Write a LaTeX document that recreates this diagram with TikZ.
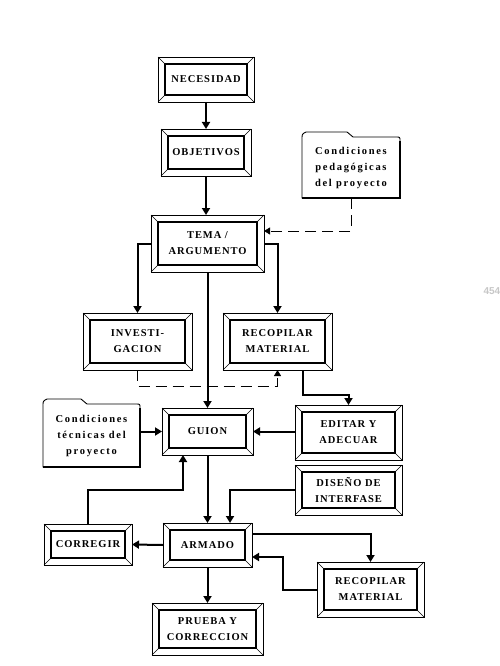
\documentclass[tikz,border=0pt]{standalone}
\usepackage{fontspec}
\setmainfont{Liberation Serif}
\newfontfamily\bxf[LetterSpace=9]{Liberation Serif}
\newfontfamily\fdf[LetterSpace=16]{Liberation Serif}
\newfontfamily\lsans{Liberation Sans}
\usetikzlibrary{arrows.meta}
\tikzset{
  bevbox/.style={draw, line width=0.6pt, inner sep=0pt, outer sep=0pt, align=center,
     font=\bxf\bfseries\fontsize{10.5}{16}\selectfont},
  foldbox/.style={inner sep=0pt, outer sep=0pt, align=center,
     font=\fdf\bfseries\fontsize{10.5}{16}\selectfont},
  conn/.style={line width=2pt, -{Triangle[length=7pt,width=8pt]}},
  dconn/.style={line width=0.8pt, dash pattern=on 11pt off 6pt, -{Triangle[length=6pt,width=7pt]}},
  inner/.style={line width=2pt},
  bevel/.style={line width=0.5pt},
  folder/.style={line width=0.9pt}
}
\newcommand\bev[6]{%
  \node[bevbox, minimum width={#4-#2}, minimum height={#5-#3}] (#1) at ({(#2+#4)/2},{(#3+#5)/2}) {#6};
  \draw[inner] ([shift={(7,7)}]#1.north west) rectangle ([shift={(-7,-7)}]#1.south east);
  \draw[bevel] (#1.north west) -- ([shift={(7,7)}]#1.north west)
               (#1.north east) -- ([shift={(-7,7)}]#1.north east)
               (#1.south west) -- ([shift={(7,-7)}]#1.south west)
               (#1.south east) -- ([shift={(-7,-7)}]#1.south east);
}
% name, x1, body-top y1, x2, y2, tab width, text
\newcommand\folderbox[7]{%
  \node[foldbox, minimum width={#4-#2}, minimum height={#5-#3}] (#1) at ({(#2+#4)/2},{(#3+#5)/2}) {#7};
  \draw[folder] (#2,#5) -- (#2,{#3+2}) .. controls (#2,{#3-3}) .. ({#2+4},{#3-5})
     -- ({#2+#6},{#3-5}) -- ({#2+#6+6},#3) -- ({#4-4},#3) .. controls (#4,#3) .. (#4,{#3+4})
     -- (#4,#5) -- cycle;
  \draw[line width=1.3pt] (#4,{#3+4}) -- (#4,#5) -- (#2,#5);
}
\begin{document}
\begin{tikzpicture}[x=1pt,y=-1pt]
\fill[white] (0,0) rectangle (499,666);
\useasboundingbox (0,0) rectangle (499,666);

\bev{nec}{158}{57}{254}{102}{NECESIDAD}
\bev{obj}{161}{129}{251}{176}{OBJETIVOS}
\bev{tema}{151}{215}{264}{272}{TEMA /\\ARGUMENTO}
\bev{inv}{83}{313}{192}{370}{INVESTI-\\GACION}
\bev{rec}{223}{313}{332}{370}{RECOPILAR\\MATERIAL}
\bev{guion}{162}{408}{253}{455}{GUION}
\bev{edit}{295}{405}{402}{460}{EDITAR Y\\ADECUAR}
\bev{dis}{295}{465}{402}{515}{DISEÑO DE\\INTERFASE}
\bev{corr}{44}{524}{132}{565}{CORREGIR}
\bev{arm}{163}{523}{252}{567}{ARMADO}
\bev{rec2}{317}{562}{424}{617}{RECOPILAR\\MATERIAL}
\bev{prue}{152}{603}{263}{655}{PRUEBA Y\\CORRECCION}

\folderbox{ped}{302}{137}{400}{198}{45}{Condiciones\\pedagógicas\\del proyecto}
\folderbox{tec}{43}{404}{140}{467}{38}{Condiciones\\técnicas del\\proyecto}

% connectors
\draw[conn] (nec.south) -- (obj.north);
\draw[conn] (obj.south) -- (obj.south |- tema.north);
\coordinate (d1) at (352,231);
\draw[dconn] (ped.south) -- (ped.south |- d1) -- (tema.east |- d1);
\draw[conn] (tema.west) -| (inv.north);
\draw[conn] (tema.east) -| (rec.north);
\draw[conn] (tema.south) -- (guion.north);
\coordinate (d2) at (0,386);
\draw[dconn] (inv.south) -- (inv.south |- d2) -| (rec.south);
\coordinate (r1) at (303,395);
\draw[conn] (r1 |- rec.south) -- (r1) -| (edit.north);
\draw[conn] (guion.west -| tec.east) -- (guion.west);
\draw[conn] (guion.east -| edit.west) -- (guion.east);
\draw[conn] (guion.south) -- (arm.north);
\coordinate (k1) at (230,490);
\draw[conn] (dis.west |- k1) -- (k1) -- (k1 |- arm.north);
\coordinate (k2) at (183,490);
\draw[conn] (corr.north) |- (k2) -- (k2 |- guion.south);
\draw[conn] (arm.west) -- (corr.east);
\coordinate (a1) at (0,534);
\draw[conn] (arm.east |- a1) -| (rec2.north);
\coordinate (a2) at (283,557);
\draw[conn] (rec2.west) -| (a2) -- (arm.east |- a2);
\draw[conn] (arm.south) -- (prue.north);

\node[anchor=west, text=black!22, font=\lsans\bfseries\fontsize{10}{11}\selectfont] (pg) at (480,291) {454};
\end{tikzpicture}
\end{document}
